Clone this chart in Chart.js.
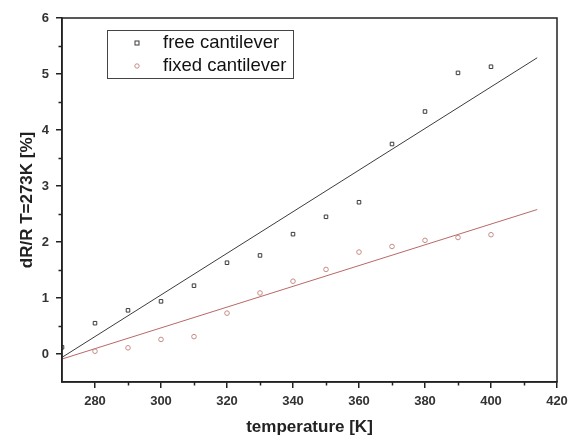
<!DOCTYPE html>
<html>
<head>
<meta charset="utf-8">
<script src="https://cdn.jsdelivr.net/npm/chart.js@4/dist/chart.umd.min.js"></script>
<style>
html,body{margin:0;padding:0;background:#fff;}
#wrap{width:576px;height:441px;position:relative;}
</style>
</head>
<body>
<div id="wrap"><canvas id="c" width="576" height="441"></canvas></div>
<script>
// Data
const temps = [270, 280, 290, 300, 310, 320, 330, 340, 350, 360, 370, 380, 390, 400];
const freeValues = [0.12, 0.55, 0.78, 0.94, 1.22, 1.63, 1.76, 2.14, 2.45, 2.71, 3.75, 4.33, 5.02, 5.13];
const fixedTemps = [280, 290, 300, 310, 320, 330, 340, 350, 360, 370, 380, 390, 400];
const fixedValues = [0.05, 0.11, 0.26, 0.31, 0.73, 1.09, 1.30, 1.51, 1.82, 1.92, 2.03, 2.08, 2.13];
const fitX = [270, 414];
const freeFit = [-0.06, 5.29];
const fixedFit = [-0.09, 2.58];
const seriesLabels = ['free cantilever', 'fixed cantilever'];
const xLabel = 'temperature [K]';
const yLabel = 'dR/R T=273K [%]';
const xMinorTicks = [290, 310, 330, 350, 370, 390, 410];
const yMinorTicks = [-0.5, 0.5, 1.5, 2.5, 3.5, 4.5, 5.5];

const toXY = (xs, ys) => xs.map((x, i) => ({x: x, y: ys[i]}));

const blackPt = '#3a3a3a';
const redPt = '#c48c88';
const blackLine = '#3c3c3c';
const redLine = '#b86866';
const FONT = '"Liberation Sans", Arial, sans-serif';

const frameAndLegend = {
  id: 'frameAndLegend',
  afterDraw(chart) {
    const ctx = chart.ctx;
    const a = chart.chartArea;
    const xs = chart.scales.x, ys = chart.scales.y;
    ctx.save();
    ctx.strokeStyle = '#222';
    ctx.lineWidth = 1.5;
    ctx.strokeRect(a.left, a.top, a.right - a.left, a.bottom - a.top);
    // minor ticks
    ctx.beginPath();
    xMinorTicks.forEach(v => {
      const px = Math.round(xs.getPixelForValue(v)) + 0.5;
      ctx.moveTo(px, a.bottom); ctx.lineTo(px, a.bottom + 3.5);
    });
    yMinorTicks.forEach(v => {
      const py = Math.round(ys.getPixelForValue(v)) + 0.5;
      if (py < a.bottom - 1) { ctx.moveTo(a.left, py); ctx.lineTo(a.left - 3.5, py); }
    });
    ctx.stroke();
    // legend box
    const lx = 107, ly = 30, lw = 186, lh = 48;
    ctx.lineWidth = 1;
    ctx.strokeStyle = '#444';
    ctx.strokeRect(lx + 0.5, ly + 0.5, lw, lh);
    ctx.font = '18.5px ' + FONT;
    ctx.fillStyle = '#111';
    ctx.textBaseline = 'middle';
    const rows = [{y: 43, ds: chart.data.datasets[0]}, {y: 66, ds: chart.data.datasets[1]}];
    rows.forEach(r => {
      ctx.strokeStyle = r.ds.pointBorderColor;
      ctx.lineWidth = 1;
      if (r.ds.pointStyle === 'rect') {
        ctx.strokeRect(135, r.y - 2, 4, 4);
      } else {
        ctx.beginPath();
        ctx.arc(137, r.y, 2.2, 0, Math.PI * 2);
        ctx.stroke();
      }
      ctx.fillText(r.ds.label, 163, r.y);
    });
    ctx.restore();
  }
};

new Chart(document.getElementById('c'), {
  type: 'scatter',
  data: {
    datasets: [
      {label: seriesLabels[0], data: toXY(temps, freeValues), pointStyle: 'rect', pointRadius: 2.5,
       pointBorderColor: blackPt, pointBackgroundColor: 'rgba(0,0,0,0)', pointBorderWidth: 1, showLine: false},
      {label: seriesLabels[1], data: toXY(fixedTemps, fixedValues), pointStyle: 'circle', pointRadius: 2.3,
       pointBorderColor: redPt, pointBackgroundColor: 'rgba(0,0,0,0)', pointBorderWidth: 1, showLine: false},
      {label: 'free fit', data: toXY(fitX, freeFit), showLine: true, pointRadius: 0,
       borderColor: blackLine, borderWidth: 1},
      {label: 'fixed fit', data: toXY(fitX, fixedFit), showLine: true, pointRadius: 0,
       borderColor: redLine, borderWidth: 1}
    ]
  },
  options: {
    responsive: false,
    animation: false,
    devicePixelRatio: 1,
    layout: {padding: {left: 0, right: 19, top: 18, bottom: 0}},
    plugins: {legend: {display: false}, tooltip: {enabled: false}},
    scales: {
      x: {
        type: 'linear', min: 270, max: 420,
        afterFit: s => { s.height = 59; },
        border: {display: true, color: '#222', width: 1.5},
        grid: {display: true, drawOnChartArea: false, drawTicks: true, tickLength: 6, lineWidth: 1.5,
          tickColor: c => (c.tick && c.tick.value % 20 === 0) ? '#222' : 'rgba(0,0,0,0)'},
        ticks: {stepSize: 10, padding: 6, color: '#333',
          font: {family: FONT, size: 13, weight: 'bold'},
          callback: v => (v % 20 === 0 && v >= 280) ? String(v) : ''},
        title: {display: true, text: xLabel, color: '#222', padding: {top: 6, bottom: 3},
          font: {family: FONT, size: 17, weight: 'bold'}}
      },
      y: {
        type: 'linear', min: -0.5, max: 6,
        afterFit: s => { s.width = 62; },
        border: {display: true, color: '#222', width: 1.5},
        grid: {display: true, drawOnChartArea: false, drawTicks: true, tickLength: 6, lineWidth: 1.5,
          tickColor: c => (c.tick && Number.isInteger(c.tick.value)) ? '#222' : 'rgba(0,0,0,0)'},
        ticks: {stepSize: 0.5, padding: 7, color: '#333',
          font: {family: FONT, size: 13, weight: 'bold'},
          callback: v => (Number.isInteger(v) ? String(v) : '')},
        title: {display: true, text: yLabel, color: '#222', padding: {top: 17, bottom: 6},
          font: {family: FONT, size: 17, weight: 'bold'}}
      }
    }
  },
  plugins: [frameAndLegend]
});
</script>
</body>
</html>
